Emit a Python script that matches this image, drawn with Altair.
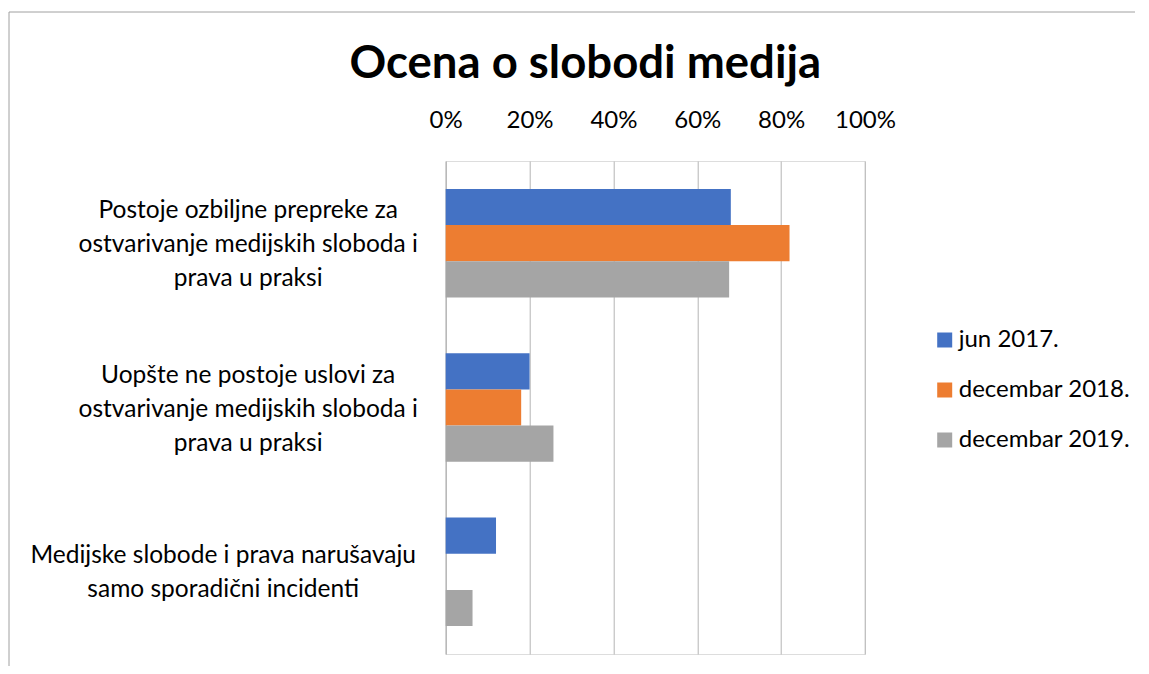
import altair as alt
import pandas as pd

categories = [
    "Postoje ozbiljne prepreke za|ostvarivanje medijskih sloboda i|prava u praksi",
    "Uopšte ne postoje uslovi za|ostvarivanje medijskih sloboda i|prava u praksi",
    "Medijske slobode i prava narušavaju|samo sporadični incidenti",
]
series_names = ["jun 2017.", "decembar 2018.", "decembar 2019."]
jun_2017 = [68, 20, 12]
dec_2018 = [82, 18, 0]
dec_2019 = [67.6, 25.7, 6.4]
series_colors = ["#4472C4", "#ED7D31", "#A5A5A5"]
tick_values = [0, 20, 40, 60, 80, 100]

rows = []
for name, vals in zip(series_names, [jun_2017, dec_2018, dec_2019]):
    for cat, v in zip(categories, vals):
        rows.append({"category": cat, "series": name, "value": v})
df = pd.DataFrame(rows)

FONT = "Lato"
W, H = 419.3, 493
PAD = {"left": 437.7, "top": 153, "right": 270, "bottom": 12}
GRID = "#B4B4B4"
TWO_LINE = "indexof(datum.value, 'Medijske') == 0"

bars = alt.Chart(df).mark_bar().encode(
    x=alt.X(
        "value:Q",
        scale=alt.Scale(domain=[0, 100], nice=False),
        axis=alt.Axis(
            orient="top",
            values=tick_values,
            labelExpr="datum.value + '%'",
            title=None,
            domain=False,
            ticks=False,
            tickSize=0,
            grid=True,
            gridColor=GRID,
            gridWidth=1,
            labelFont=FONT,
            labelFontSize=24,
            labelColor="#000000",
            labelBaseline="alphabetic",
            labelPadding=34,
            labelOverlap=False,
            labelFlush=False,
        ),
    ),
    y=alt.Y(
        "category:N",
        sort=categories,
        scale=alt.Scale(domain=categories, paddingInner=0.34, paddingOuter=0.17),
        axis=alt.Axis(
            title=None,
            grid=False,
            ticks=False,
            tickSize=0,
            domain=True,
            domainColor=GRID,
            labelExpr="split(datum.label, '|')",
            labelFont=FONT,
            labelFontSize=24.5,
            labelColor="#000000",
            labelAlign="center",
            labelBaseline="middle",
            labelLineHeight=34,
            labelLimit=0,
            labelOverlap=False,
            labelPadding={
                "condition": {"test": TWO_LINE, "value": 223},
                "value": 198,
            },
            labelOffset={
                "condition": {"test": TWO_LINE, "value": -16},
                "value": -32,
            },
        ),
    ),
    yOffset=alt.YOffset(
        "series:N",
        sort=series_names,
        scale=alt.Scale(domain=series_names, paddingInner=0, paddingOuter=0),
    ),
    color=alt.Color(
        "series:N",
        sort=series_names,
        scale=alt.Scale(domain=series_names, range=series_colors),
        legend=alt.Legend(
            title=None,
            orient="none",
            legendX=487,
            legendY=167,
            symbolType="square",
            symbolSize=225,
            symbolStrokeWidth=0,
            labelFont=FONT,
            labelFontSize=24,
            labelColor="#000000",
            labelOffset=2,
            labelLimit=400,
            rowPadding=26,
            padding=0,
        ),
    ),
)

frame_data = alt.InlineData(values=[{"k": 1}])
frame_left = alt.Chart(frame_data).mark_rule(color="#A0A0A0", strokeWidth=1).encode(
    x=alt.value(-436.7), y=alt.value(-149), y2=alt.value(H + 20)
)
frame_top = alt.Chart(frame_data).mark_rule(color="#A0A0A0", strokeWidth=1).encode(
    x=alt.value(-436.7), x2=alt.value(W + 280), y=alt.value(-149)
)

chart = alt.layer(frame_left, frame_top, bars).properties(
    width=W,
    height=H,
    autosize=alt.AutoSizeParams(type="none"),
    padding=PAD,
    title=alt.TitleParams(
        "Ocena o slobodi medija",
        font=FONT,
        fontSize=45.5,
        fontWeight="bold",
        color="#000000",
        anchor="middle",
        frame="group",
        baseline="alphabetic",
        dx=-70,
        dy=140,
        offset=28,
    ),
).configure_view(stroke=None).configure(background="#FFFFFF")

chart.save("out.html", embed_options={"renderer": "svg", "actions": False})
